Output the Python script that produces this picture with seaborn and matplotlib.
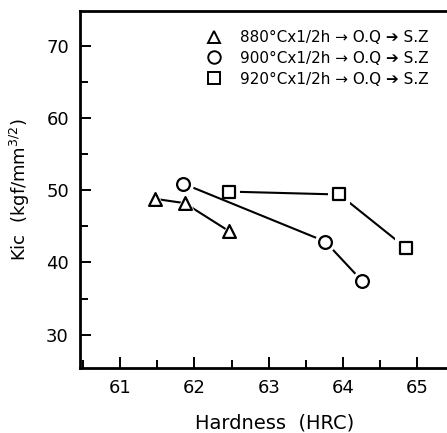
import matplotlib
matplotlib.use("Agg")
import matplotlib.pyplot as plt
import seaborn as sns
import pandas as pd
from matplotlib.lines import Line2D
from matplotlib.ticker import MultipleLocator

# Fracture toughness vs hardness for three austenitizing temperatures
labels = [
    "880°Cx1/2h → O.Q ➔ S.Z",
    "900°Cx1/2h → O.Q ➔ S.Z",
    "920°Cx1/2h → O.Q ➔ S.Z",
]
markers = ["^", "o", "s"]

hrc_880 = [61.47, 61.87, 62.47]
kic_880 = [48.8, 48.2, 44.3]

hrc_900 = [61.85, 63.76, 64.26]
kic_900 = [50.9, 42.9, 37.4]

hrc_920 = [62.47, 63.95, 64.85]
kic_920 = [49.8, 49.4, 42.0]

series = {
    labels[0]: (hrc_880, kic_880, markers[0]),
    labels[1]: (hrc_900, kic_900, markers[1]),
    labels[2]: (hrc_920, kic_920, markers[2]),
}

sns.set_style("ticks")
plt.rcParams["font.family"] = ["DejaVu Sans"]
plt.rcParams["text.color"] = "black"
plt.rcParams["axes.labelcolor"] = "black"
plt.rcParams["xtick.color"] = "black"
plt.rcParams["ytick.color"] = "black"

fig = plt.figure(figsize=(4.47, 4.33), dpi=100)
ax = fig.add_axes([0.179, 0.150, 0.871, 0.825])

# draw each series as its own layer (line, white halo, open symbol);
# the 900 °C series goes on top since its line passes close to the 920 °C symbol
draw_order = [labels[0], labels[2], labels[1]]
for i, lab in enumerate(draw_order):
    xs, ys, m = series[lab]
    d = pd.DataFrame({"HRC": xs, "KIC": ys})
    z = 1 + 3 * i
    sns.lineplot(data=d, x="HRC", y="KIC", sort=False, estimator=None, color="black",
                 linewidth=1.5, zorder=z, ax=ax)
    sns.scatterplot(data=d, x="HRC", y="KIC", marker=m, color="white", s=230,
                    linewidth=0, zorder=z + 1, ax=ax)
    sns.scatterplot(data=d, x="HRC", y="KIC", marker=m, facecolor="white",
                    edgecolor="black", s=85, linewidth=1.6, zorder=z + 2, ax=ax)

ax.set_xlim(60.46, 65.7)
ax.set_ylim(25.4, 74.8)
ax.xaxis.set_major_locator(MultipleLocator(1))
ax.xaxis.set_minor_locator(MultipleLocator(0.5))
ax.yaxis.set_major_locator(MultipleLocator(10))
ax.yaxis.set_minor_locator(MultipleLocator(5))
ax.tick_params(which="major", direction="in", length=8, width=1.4, labelsize=13, pad=8)
ax.tick_params(which="minor", direction="in", length=6, width=1.4)
ax.tick_params(top=False, right=False)

for side in ["left", "bottom", "top"]:
    ax.spines[side].set_linewidth(2)
    ax.spines[side].set_color("black")
ax.spines["right"].set_visible(False)

ax.set_xlabel("Hardness  (HRC)", fontsize=14, labelpad=12)
ax.set_ylabel("Kic  (kgf/mm$^{3/2}$)", fontsize=13, labelpad=10)

handles = [Line2D([], [], marker=m, linestyle="none", markerfacecolor="white",
                  markeredgecolor="black", markeredgewidth=1.4, markersize=9)
           for m in markers]
ax.legend(handles, labels, loc="upper left", bbox_to_anchor=(0.285, 0.985),
          frameon=False, fontsize=11, handletextpad=1.1, labelspacing=0.38,
          handlelength=1.2)

fig.savefig("out.png", dpi=100)
